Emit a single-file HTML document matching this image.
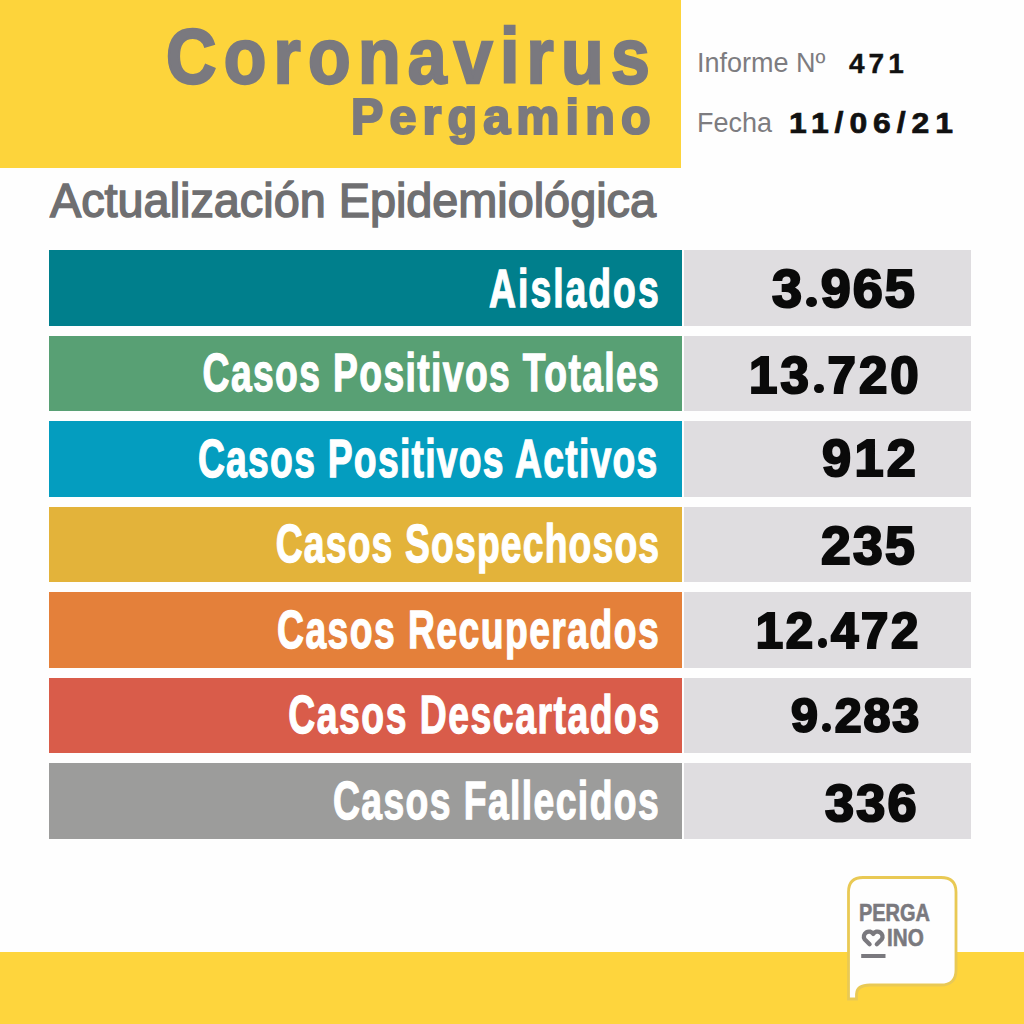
<!DOCTYPE html>
<html><head><meta charset="utf-8">
<style>
html,body{margin:0;padding:0;}
body{width:1024px;height:1024px;position:relative;overflow:hidden;background:#fefefe;font-family:"Liberation Sans",sans-serif;}
.abs{position:absolute;}
#hdr{left:0;top:0;width:681px;height:168px;background:#fdd43b;}
.t{position:absolute;white-space:nowrap;line-height:1;}
#t1{color:#7a797f;font-weight:bold;font-size:77.5px;left:166px;top:18px;letter-spacing:8.1px;transform:scaleX(0.9);transform-origin:left top;-webkit-text-stroke:2.4px #7a797f;}
#t2{color:#7a797f;font-weight:bold;font-size:50px;left:351px;top:91.5px;letter-spacing:6.3px;transform:scaleX(0.97);transform-origin:left top;-webkit-text-stroke:2.2px #7a797f;}
.inf{color:#7d7c80;font-size:27px;left:697px;}
.num{color:#111;font-weight:bold;font-size:28px;-webkit-text-stroke:0.4px #111;}
#act{color:#6f6f71;font-weight:normal;-webkit-text-stroke:1.5px #6f6f71;font-size:47.5px;left:50px;top:176.5px;transform:scaleX(0.985);transform-origin:left top;}
.row{position:absolute;left:49px;width:633px;height:75.5px;}
.cell{position:absolute;left:684px;width:287px;height:75.5px;background:#dfdde0;}
.lab{position:absolute;right:365px;color:#fff;-webkit-text-stroke:1.3px #fff;font-weight:bold;font-size:54px;transform-origin:right center;white-space:nowrap;line-height:1;}
.val{position:absolute;color:#0a0a0a;font-weight:bold;font-size:55px;-webkit-text-stroke:2.2px #0a0a0a;white-space:nowrap;line-height:1;}
span.dot{display:inline-block;width:0.19em;height:0.19em;border-radius:50%;background:#0a0a0a;margin:0 0.075em 0 0.045em;vertical-align:baseline;}
#band{left:0;top:952px;width:1024px;height:72px;background:#fed53d;}
#logo{position:absolute;left:0;top:0;}
</style></head><body>
<div id="hdr" class="abs"></div>
<div id="t1" class="t">Coronavirus</div>
<div id="t2" class="t">Pergamino</div>
<div class="t inf" style="top:50px">Informe Nº</div>
<div class="t num" style="left:849px;top:50px;letter-spacing:4px">471</div>
<div class="t inf" style="top:110px">Fecha</div>
<div class="t num" style="left:789px;top:109px;font-size:29px;letter-spacing:5.4px;transform:scaleX(1.1);transform-origin:left top;-webkit-text-stroke:0.7px #111">11/06/21</div>
<div id="act" class="t">Actualización Epidemiológica</div>

<div class="row" style="top:250px;background:#007f8c"></div><div class="cell" style="top:250px"></div>
<div class="row" style="top:335.5px;background:#58a074"></div><div class="cell" style="top:335.5px"></div>
<div class="row" style="top:421px;background:#049dbf"></div><div class="cell" style="top:421px"></div>
<div class="row" style="top:506.5px;background:#e3b33a"></div><div class="cell" style="top:506.5px"></div>
<div class="row" style="top:592px;background:#e4803a"></div><div class="cell" style="top:592px"></div>
<div class="row" style="top:677.5px;background:#d95c4a"></div><div class="cell" style="top:677.5px"></div>
<div class="row" style="top:763px;background:#9c9c9b"></div><div class="cell" style="top:763px"></div>

<div class="lab" style="top:260.5px;right:363.34px;letter-spacing:2.95px;transform:scaleX(0.69)">Aislados</div>
<div class="lab" style="top:344.5px;right:364.00px;letter-spacing:2.00px;transform:scaleX(0.69)">Casos Positivos Totales</div>
<div class="lab" style="top:430.5px;right:365.11px;letter-spacing:1.84px;transform:scaleX(0.69)">Casos Positivos Activos</div>
<div class="lab" style="top:516px;right:364.20px;letter-spacing:1.71px;transform:scaleX(0.69)">Casos Sospechosos</div>
<div class="lab" style="top:601.5px;right:363.93px;letter-spacing:2.11px;transform:scaleX(0.69)">Casos Recuperados</div>
<div class="lab" style="top:687px;right:363.82px;letter-spacing:2.26px;transform:scaleX(0.69)">Casos Descartados</div>
<div class="lab" style="top:772.5px;right:363.96px;letter-spacing:2.06px;transform:scaleX(0.69)">Casos Fallecidos</div>

<div class="val" style="top:260.90px;left:772.00px;font-size:54px;letter-spacing:1.95px">3<span class=dot></span>965</div>
<div class="val" style="top:350.20px;left:749.10px;font-size:51px;letter-spacing:3.00px">13<span class=dot></span>720</div>
<div class="val" style="top:432.40px;left:822.00px;font-size:52.3px;letter-spacing:3.30px">912</div>
<div class="val" style="top:518.80px;left:821.00px;font-size:53.5px;letter-spacing:2.20px">235</div>
<div class="val" style="top:605.50px;left:755.80px;font-size:49.2px;letter-spacing:2.62px">12<span class=dot></span>472</div>
<div class="val" style="top:691.00px;left:790.90px;font-size:48.4px;letter-spacing:1.91px">9<span class=dot></span>283</div>
<div class="val" style="top:776.50px;left:825.00px;font-size:52.2px;letter-spacing:2.20px">336</div>

<div id="band" class="abs"></div>

<svg id="logo" width="1024" height="1024" viewBox="0 0 1024 1024">
  <path d="M848.5 999 L848.5 892 Q848.5 877.5 863 877.5 L941 877.5 Q956 877.5 956 892 L956 970 Q956 985 941 985 L870 985 Q857 985 856.5 994 L856.5 999 Z" fill="#fefefe" stroke="#e9c954" stroke-width="2.8"/>
  <path d="M869.6 944.2 L864.6 939.2 A5 5 0 1 1 873.2 934 A5 5 0 1 1 881.8 939.2 L876.8 944.2" fill="none" stroke="#7a797e" stroke-width="4.3" stroke-linecap="round" stroke-linejoin="round"/>
  <rect x="861.2" y="954" width="24.3" height="4" fill="#7a797e"/>
</svg>
<div class="t" style="left:859px;top:901px;font-size:24px;font-weight:bold;color:#7a797e;-webkit-text-stroke:0.6px #7a797e;transform:scaleX(0.83);transform-origin:left top;">PERGA</div>
<div class="t" style="left:887px;top:926px;font-size:24px;font-weight:bold;color:#7a797e;-webkit-text-stroke:0.6px #7a797e;transform:scaleX(0.86);transform-origin:left top;">INO</div>
</body></html>
